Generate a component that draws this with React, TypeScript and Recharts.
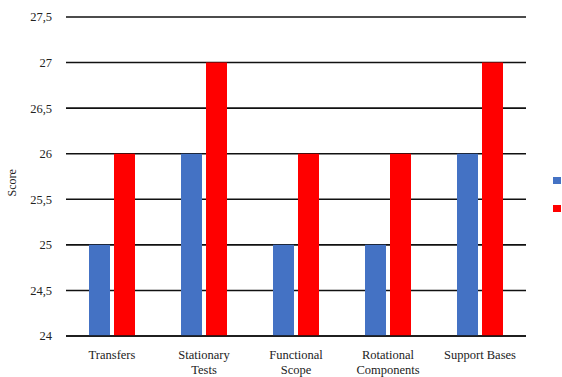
import { BarChart, Bar, XAxis, YAxis, CartesianGrid, Legend } from 'recharts';

const categories = ['Transfers', 'Stationary Tests', 'Functional Scope', 'Rotational Components', 'Support Bases'];
const tickLines: Record<string, string[]> = {
  Transfers: ['Transfers'],
  'Stationary Tests': ['Stationary', 'Tests'],
  'Functional Scope': ['Functional', 'Scope'],
  'Rotational Components': ['Rotational', 'Components'],
  'Support Bases': ['Support Bases'],
};
const blueValues = [25, 26, 25, 25, 26];
const redValues = [26, 27, 26, 26, 27];
const yTicks = [24, 24.5, 25, 25.5, 26, 26.5, 27, 27.5];

const BLUE = '#4472C4';
const RED = '#FF0000';
const FONT = 'Liberation Serif';

const data = categories.map((name, i) => ({ name, blue: blueValues[i], red: redValues[i] }));

function CategoryTick({ x, y, payload }: any) {
  const lines = tickLines[payload.value] ?? [payload.value];
  return (
    <text x={x} y={y + 3} textAnchor="middle" fill="#222" fontSize={12.5} fontFamily={FONT}>
      {lines.map((l, i) => (
        <tspan key={i} x={x} dy={i === 0 ? 12 : 15}>
          {l}
        </tspan>
      ))}
    </text>
  );
}

function SquareLegend() {
  return (
    <div style={{ position: 'relative', width: 8, height: 36 }}>
      <div style={{ position: 'absolute', top: 0, left: 0, width: 8, height: 7, background: BLUE }} />
      <div style={{ position: 'absolute', top: 28, left: 0, width: 8, height: 7, background: RED }} />
    </div>
  );
}

export default function App() {
  return (
    <div style={{ position: 'absolute', left: 0, top: 0, width: 562, height: 377, background: '#fff' }}>
      <BarChart
        width={562}
        height={377}
        data={data}
        margin={{ top: 17, right: 36, bottom: 10, left: 0 }}
        barGap={4}
        barCategoryGap="24%"
      >
        <CartesianGrid vertical={false} stroke="#111" strokeWidth={1.6} />
        <XAxis
          dataKey="name"
          height={31}
          tick={<CategoryTick />}
          tickLine={false}
          axisLine={{ stroke: '#111', strokeWidth: 1.6 }}
          interval={0}
        />
        <YAxis
          width={66}
          domain={[24, 27.5]}
          ticks={yTicks}
          tickFormatter={(v: number) => String(v).replace('.', ',')}
          tick={{ fill: '#222', fontSize: 12.5, fontFamily: FONT }}
          tickLine={false}
          axisLine={false}
          tickMargin={8}
          label={{ value: 'Score', angle: -90, position: 'insideLeft', offset: 12, fill: '#222', fontSize: 12, fontFamily: FONT, dy: 20 }}
        />
        <Legend
          layout="vertical"
          align="center"
          verticalAlign="middle"
          wrapperStyle={{ position: 'absolute', left: 553, top: 177, width: 8, height: 36 }}
          content={<SquareLegend />}
        />
        <Bar dataKey="blue" fill={BLUE} barSize={21} isAnimationActive={false} />
        <Bar dataKey="red" fill={RED} barSize={21} isAnimationActive={false} />
      </BarChart>
    </div>
  );
}
